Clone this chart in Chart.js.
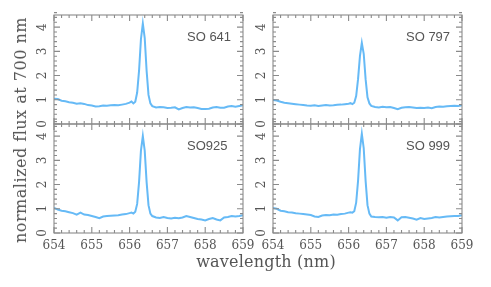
<!DOCTYPE html>
<html>
<head>
<meta charset="utf-8">
<script src="https://cdn.jsdelivr.net/npm/chart.js@4/dist/chart.umd.min.js"></script>
<style>
  html, body { margin: 0; padding: 0; background: #fff; }
  #wrap { position: relative; width: 491px; height: 287px; overflow: hidden; background: #fff; }
  #wrap canvas { position: absolute; left: 0; top: 0; }
  .txt { position: absolute; white-space: nowrap; color: #555; }
  .panel-label { font-family: 'Liberation Sans', Arial, sans-serif; font-size: 13px; line-height: 13px; }
  .axis-title { font-family: 'DejaVu Serif', serif; font-size: 16px; line-height: 16px; }
</style>
</head>
<body>
<div id="wrap">
  <canvas id="c0" width="491" height="287"></canvas>
  <canvas id="c1" width="491" height="287"></canvas>
  <canvas id="c2" width="491" height="287"></canvas>
  <canvas id="c3" width="491" height="287"></canvas>
</div>
<script>
// ---------- data ----------
const wavelength = [
  654.0, 654.1, 654.2, 654.3, 654.4, 654.5, 654.6, 654.7, 654.8, 654.9,
  655.0, 655.1, 655.2, 655.3, 655.4, 655.5, 655.6, 655.7, 655.8, 655.9,
  656.0, 656.05, 656.1, 656.15, 656.2, 656.25, 656.3, 656.35, 656.4, 656.45, 656.5, 656.55, 656.6,
  656.7, 656.8, 656.9, 657.0, 657.1, 657.2, 657.3, 657.4, 657.5, 657.6, 657.7, 657.8, 657.9,
  658.0, 658.1, 658.2, 658.3, 658.4, 658.5, 658.6, 658.7, 658.8, 658.9, 659.0
];
const fluxSO641 = [
  1.04, 1.03, 0.96, 0.94, 0.90, 0.88, 0.84, 0.86, 0.83, 0.78,
  0.76, 0.72, 0.73, 0.76, 0.75, 0.77, 0.78, 0.77, 0.80, 0.83,
  0.88, 0.93, 0.85, 0.92, 1.30, 2.20, 3.50, 4.15, 3.55, 2.20, 1.20, 0.85, 0.74,
  0.68, 0.70, 0.69, 0.66, 0.67, 0.69, 0.60, 0.66, 0.70, 0.68, 0.69, 0.66, 0.62,
  0.62, 0.63, 0.68, 0.70, 0.67, 0.67, 0.72, 0.74, 0.71, 0.74, 0.77
];
const fluxSO797 = [
  0.99, 0.97, 0.92, 0.88, 0.86, 0.84, 0.82, 0.80, 0.78, 0.76,
  0.75, 0.77, 0.74, 0.76, 0.78, 0.76, 0.77, 0.79, 0.80, 0.82,
  0.84, 0.86, 0.82, 0.88, 1.15, 1.85, 2.80, 3.35, 2.90, 1.85, 1.10, 0.85, 0.75,
  0.70, 0.68, 0.71, 0.69, 0.70, 0.66, 0.61, 0.67, 0.69, 0.70, 0.68, 0.66, 0.67,
  0.66, 0.68, 0.65, 0.70, 0.72, 0.71, 0.73, 0.74, 0.75, 0.74, 0.77
];
const fluxSO925 = [
  1.03, 0.97, 0.92, 0.90, 0.86, 0.82, 0.76, 0.84, 0.76, 0.74,
  0.70, 0.66, 0.61, 0.68, 0.70, 0.71, 0.72, 0.73, 0.76, 0.78,
  0.82, 0.84, 0.80, 0.88, 1.20, 2.10, 3.40, 4.00, 3.40, 2.10, 1.15, 0.80, 0.70,
  0.64, 0.62, 0.66, 0.62, 0.60, 0.63, 0.61, 0.64, 0.70, 0.66, 0.62, 0.58, 0.56,
  0.52, 0.58, 0.62, 0.56, 0.52, 0.64, 0.66, 0.70, 0.68, 0.70, 0.73
];
const fluxSO999 = [
  1.03, 1.00, 0.92, 0.90, 0.86, 0.85, 0.82, 0.80, 0.78, 0.76,
  0.74, 0.68, 0.66, 0.72, 0.74, 0.73, 0.76, 0.75, 0.78, 0.80,
  0.84, 0.86, 0.84, 0.90, 1.25, 2.15, 3.45, 4.10, 3.50, 2.15, 1.15, 0.80, 0.68,
  0.66, 0.65, 0.66, 0.63, 0.66, 0.64, 0.52, 0.65, 0.66, 0.63, 0.60, 0.55, 0.62,
  0.58, 0.60, 0.62, 0.66, 0.64, 0.66, 0.68, 0.69, 0.70, 0.70, 0.73
];
const panelNames = ['SO 641', 'SO 797', 'SO925', 'SO 999'];
const panelFlux = [fluxSO641, fluxSO797, fluxSO925, fluxSO999];
const xTickValues = [654, 655, 656, 657, 658, 659];
const yTickValues = [0, 1, 2, 3, 4];
const xRange = [654, 659];
const yRange = [0, 4.5];
const xMinorStep = 0.2;
const yMinorStep = 0.2;
const xTitle = 'wavelength (nm)';
const yTitle = 'normalized flux at 700 nm';

// ---------- layout / style ----------
const W = 491, H = 287;
const Y_AXIS_W = 30, X_AXIS_H = 26;
const boxes = [
  { left: 54, right: 243, top: 15, bottom: 124, showX: false },
  { left: 273, right: 462, top: 15, bottom: 124, showX: false },
  { left: 54, right: 243, top: 124, bottom: 233, showX: true },
  { left: 273, right: 462, top: 124, bottom: 233, showX: true }
];
const LINE_COLOR = '#66baf6';
const FRAME_COLOR = '#8a8a8a';
const TEXT_COLOR = '#555555';
const TICK_FONT = { family: "'DejaVu Serif', serif", size: 12 };

const framePlugin = {
  id: 'frameTicks',
  afterDatasetsDraw(chart) {
    const { ctx, chartArea: a, scales: { x, y } } = chart;
    ctx.save();
    ctx.strokeStyle = FRAME_COLOR;
    ctx.lineWidth = 1.1;
    ctx.strokeRect(a.left, a.top, a.right - a.left, a.bottom - a.top);
    ctx.beginPath();
    const nx = Math.round((x.max - x.min) / xMinorStep);
    for (let i = 0; i <= nx; i++) {
      const v = x.min + i * xMinorStep;
      const major = Math.abs(v - Math.round(v)) < 1e-6;
      const len = major ? 6 : 3;
      const p = x.getPixelForValue(v);
      ctx.moveTo(p, a.bottom); ctx.lineTo(p, a.bottom - len);
      ctx.moveTo(p, a.top); ctx.lineTo(p, a.top + len);
    }
    const ny = Math.round((y.max - y.min) / yMinorStep);
    for (let i = 0; i <= ny; i++) {
      const v = y.min + i * yMinorStep;
      const major = Math.abs(v - Math.round(v)) < 1e-6;
      const len = major ? 6 : 3;
      const p = y.getPixelForValue(v);
      ctx.moveTo(a.left, p); ctx.lineTo(a.left + len, p);
      ctx.moveTo(a.right, p); ctx.lineTo(a.right - len, p);
    }
    ctx.stroke();
    ctx.restore();
  }
};

boxes.forEach((b, i) => {
  const flux = panelFlux[i];
  const xh = b.showX ? X_AXIS_H : 0;
  new Chart(document.getElementById('c' + i), {
    type: 'line',
    data: {
      datasets: [{
        data: wavelength.map((w, k) => ({ x: w, y: flux[k] })),
        borderColor: LINE_COLOR,
        borderWidth: 2,
        pointRadius: 0,
        tension: 0,
        fill: false
      }]
    },
    options: {
      responsive: false,
      animation: false,
      events: [],
      devicePixelRatio: 1,
      layout: { padding: { left: b.left - Y_AXIS_W, right: W - b.right, top: b.top, bottom: H - b.bottom - xh } },
      plugins: { legend: { display: false }, tooltip: { enabled: false }, title: { display: false } },
      scales: {
        x: {
          type: 'linear',
          min: xRange[0], max: xRange[1],
          grid: { display: false, drawTicks: false },
          border: { display: false },
          ticks: {
            display: b.showX, color: TEXT_COLOR, font: TICK_FONT,
            padding: 6, autoSkip: false, maxRotation: 0, minRotation: 0
          },
          afterBuildTicks: s => { s.ticks = xTickValues.map(v => ({ value: v })); },
          afterFit: s => { s.height = xh; }
        },
        y: {
          type: 'linear',
          min: yRange[0], max: yRange[1],
          grid: { display: false, drawTicks: false },
          border: { display: false },
          ticks: {
            color: TEXT_COLOR, font: TICK_FONT,
            minRotation: 90, maxRotation: 90, crossAlign: 'center',
            padding: 7.5, autoSkip: false
          },
          afterBuildTicks: s => { s.ticks = yTickValues.map(v => ({ value: v })); },
          afterFit: s => { s.width = Y_AXIS_W; }
        }
      }
    },
    plugins: [framePlugin]
  });

  const lab = document.createElement('div');
  lab.className = 'txt panel-label';
  lab.textContent = panelNames[i];
  lab.style.left = (b.left + 133) + 'px';
  lab.style.top = (b.top + 15) + 'px';
  document.getElementById('wrap').appendChild(lab);
});

const xt = document.createElement('div');
xt.className = 'txt axis-title';
xt.textContent = xTitle;
xt.style.left = '266px';
xt.style.top = '254px';
xt.style.letterSpacing = '0.2px';
xt.style.transform = 'translateX(-50%)';
document.getElementById('wrap').appendChild(xt);

const yt = document.createElement('div');
yt.className = 'txt axis-title';
yt.textContent = yTitle;
yt.style.left = '21px';
yt.style.top = '130px';
yt.style.letterSpacing = '0.5px';
yt.style.transform = 'translate(-50%, -50%) rotate(-90deg)';
document.getElementById('wrap').appendChild(yt);
</script>
</body>
</html>
